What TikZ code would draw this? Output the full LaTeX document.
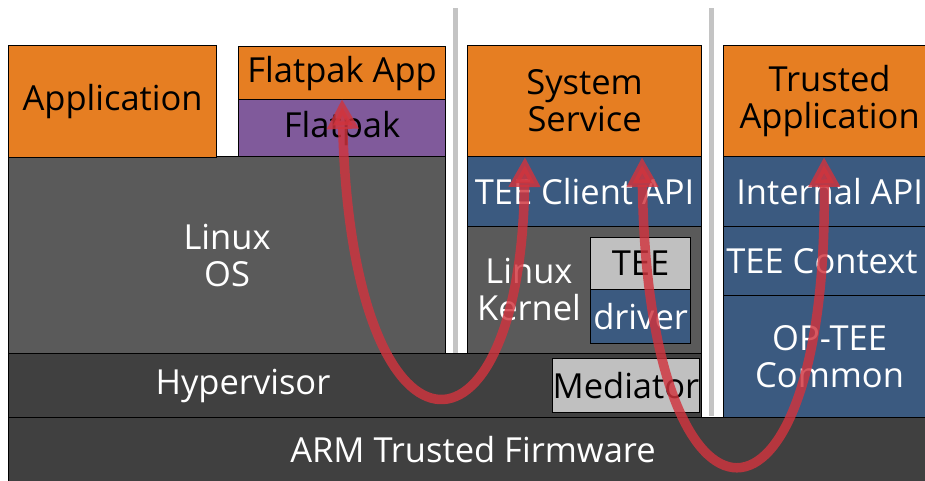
\documentclass[tikz,border=0pt]{standalone}
\usepackage{fontspec}
\setmainfont{Open Sans}
\usetikzlibrary{arrows.meta}
\definecolor{orng}{HTML}{E67E22}
\definecolor{purp}{HTML}{805A9B}
\definecolor{linuxg}{HTML}{5A5A5A}
\definecolor{darkg}{HTML}{404040}
\definecolor{blu}{HTML}{3B5A80}
\definecolor{lightg}{HTML}{C0C0C0}
\definecolor{sepg}{HTML}{C4C4C4}
\definecolor{arr}{HTML}{D0343E}
\begin{document}
\begin{tikzpicture}[x=1pt,y=-1pt,
  box/.style={draw=black, line width=1.2pt, inner sep=0pt, anchor=north west, align=center,
    font=\fontsize{34.5}{37}\selectfont},
  txt/.style={inner sep=0pt, align=center, font=\fontsize{34.5}{37}\selectfont},
  sepbar/.style={draw=none, fill=sepg},
  flow/.style={draw=arr, line width=9.5pt, opacity=0.82, {Triangle[width=30pt,length=30pt]}-{Triangle[width=30pt,length=30pt]}}
]
\useasboundingbox (0,0) rectangle (925,481);
% left column
\node[box, fill=linuxg, text=white, minimum width=437, minimum height=197] (los) at (8,156) {Linux\\OS};
\node[box, fill=orng, minimum width=208, minimum height=112] (app) at (8,45) {Application};
\node[box, fill=orng, minimum width=207, minimum height=53] (fapp) at (238,46) {Flatpak App};
\node[box, fill=purp, minimum width=207, minimum height=57] (fpak) at (238,99) {Flatpak};
% middle column
\node[box, fill=orng, minimum width=234, minimum height=111] (sys) at (467,45) {System\\Service};
\node[box, fill=blu, text=white, minimum width=234, minimum height=70] (tca) at (467,156) {TEE Client API};
\node[box, fill=linuxg, minimum width=234, minimum height=127] (kern) at (467,226) {};
\node[txt, text=white] (kernlbl) at (529,290) {Linux\\Kernel};
\node[box, fill=lightg, minimum width=100, minimum height=52] (tee) at (590,237) {TEE};
\node[box, fill=blu, text=white, minimum width=100, minimum height=54] (drv) at (590,289) {driver};
% right column
\node[box, fill=orng, minimum width=212, minimum height=111] (ta) at (723,45) {Trusted\\Application};
\node[box, fill=blu, text=white, minimum width=212, minimum height=70] (iapi) at (723,156) {Internal API};
\node[box, fill=blu, text=white, minimum width=212, minimum height=69] (tctx) at (723,226) {};
\node[txt, text=white] (tctxlbl) at (822,261) {TEE Context};
\node[box, fill=blu, text=white, minimum width=212, minimum height=122] (opt) at (723,295) {OP-TEE\\Common};
% bottom layers
\node[box, fill=darkg, minimum width=693, minimum height=64] (hyp) at (8,353) {};
\node[txt, text=white] (hyplbl) at (243,386) {Hypervisor};
\node[box, fill=lightg, minimum width=144, minimum height=54] (med) at (552,358) {Mediator};
\node[box, fill=darkg, minimum width=930, minimum height=66] (atf) at (8,417) {};
\node[txt, text=white] (atflbl) at (473,450) {ARM Trusted Firmware};
% separators
\fill[sepbar] (453,8) rectangle (458,353);
\fill[sepbar] (709,8) rectangle (714,416);
% flows
\coordinate (f1s) at (342,99);
\coordinate (f1e) at (525,157);
\coordinate (f2s) at (642,157);
\coordinate (f2e) at (824,157);
\draw[flow] (f1s) .. controls (352,480) and (520,480) .. (f1e);
\draw[flow] (f2s) .. controls (648,562) and (828,562) .. (f2e);
\end{tikzpicture}
\end{document}
